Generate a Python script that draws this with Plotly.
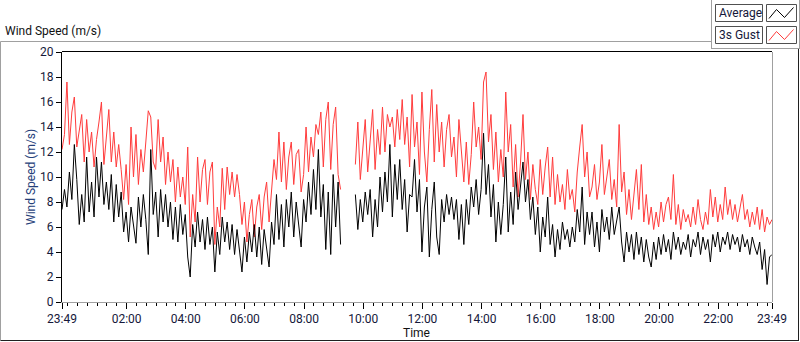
import pandas as pd
import plotly.graph_objects as go

# ---------------- data (5-minute samples) ----------------
START = "2013-06-01 23:49"
STEP_MIN = 5
GAP_LEN = 5  # missing samples around 09:20-09:45

avg_before = [
    7.4, 9.0, 7.6, 10.4, 8.2, 12.6, 9.8, 6.2, 8.6, 6.4,
    11.6, 7.2, 9.6, 6.8, 11.6, 8.4, 11.2, 7.8, 9.6, 7.4,
    10.2, 6.4, 9.4, 6.8, 8.8, 5.6, 7.2, 4.8, 7.6, 6.0,
    4.7, 8.4, 6.0, 8.6, 6.6, 3.8, 12.2, 7.0, 8.8, 5.2,
    9.0, 6.4, 8.6, 6.0, 8.0, 5.0, 7.6, 4.8, 7.8, 5.4,
    7.0, 3.6, 2.0, 6.2, 4.4, 7.2, 4.8, 6.6, 4.2, 6.8,
    4.6, 6.0, 2.4, 5.6, 3.8, 6.8, 4.8, 6.4, 4.2, 6.2,
    3.8, 5.8, 4.2,
    2.4, 5.2, 3.2, 5.6, 4.0, 6.2, 3.6,
    6.0, 3.0, 5.8, 4.4, 2.8, 6.4, 4.6, 8.6, 5.0, 7.8,
    4.4, 8.2, 6.0, 8.8, 5.2, 8.0, 6.2, 4.4, 8.2, 6.4,
    9.6, 7.0, 10.6, 7.4, 12.2, 6.8, 9.4, 4.2, 8.8, 3.8,
    10.2, 6.0, 9.6, 4.6,
]
avg_after = [
    8.6, 5.8, 8.2, 6.4, 8.8, 7.0, 9.0, 5.2, 8.2, 6.0,
    10.0, 7.2, 10.4, 8.0, 12.6, 6.8, 11.0, 8.2, 11.4, 7.4,
    9.8, 5.6, 8.6,
    8.4, 11.4, 7.2, 9.8, 4.0, 7.6, 9.2, 3.6, 7.4, 9.6,
    5.2, 3.8, 8.2, 6.4, 8.6, 7.0, 8.4, 6.6, 8.2, 5.0,
    7.8, 4.6, 8.2, 6.2, 9.2, 7.6, 9.8, 7.0, 9.0, 13.5,
    8.6, 11.0, 6.8, 9.4, 4.8, 8.0, 5.4, 7.8, 11.6, 5.6,
    8.8, 6.2, 10.4, 7.4, 9.6, 11.2, 8.0, 9.8, 6.6, 8.4,
    5.4, 7.6, 4.0, 6.8, 5.2, 8.4, 4.6, 6.2, 3.6, 5.8,
    4.2, 6.4, 5.0, 5.8, 4.4, 6.0, 4.8, 7.4, 5.6, 9.2,
    4.6, 7.2, 5.4,
    7.2, 4.4, 6.4, 4.0, 7.4, 5.6, 6.8, 5.0, 7.6, 5.4,
    6.6, 7.6, 4.8, 3.2, 5.6, 4.0, 5.4, 3.4, 5.6, 3.8,
    5.2, 3.2, 5.0, 3.6, 2.8, 4.8, 3.4, 5.2, 3.8, 5.4,
    4.0, 5.0, 3.4, 5.6, 4.2, 5.2, 3.8, 4.8, 4.2, 5.4,
    3.6, 5.0, 4.4, 5.6, 3.8, 5.2, 4.2, 5.0, 3.2, 5.4,
    4.4, 5.6, 4.0, 5.2, 4.6, 5.6, 4.2, 5.4, 4.6, 5.2,
    4.0, 5.4, 4.4, 5.0, 3.8, 5.2, 4.4, 3.8, 4.8, 2.6,
    4.2, 1.4, 3.6, 3.8,
]
gust_before = [
    12.2, 13.4, 17.6, 12.6, 15.2, 16.4, 12.4, 13.8, 15.0, 11.2,
    14.6, 12.0, 13.6, 10.8, 13.0, 14.4, 16.0, 11.0, 13.2, 15.4,
    11.2, 13.6, 10.8, 12.6, 10.6, 8.2, 11.0, 7.8, 14.0, 10.0,
    13.4, 9.4, 12.2, 10.4, 12.8, 15.3, 14.8, 11.2, 10.6, 14.6,
    11.2, 13.2, 9.4, 12.0, 9.6, 11.4, 8.0, 10.8, 8.4, 10.0,
    7.8, 12.4, 5.2, 8.6, 6.4, 11.6, 8.0, 10.6, 11.4, 7.8,
    10.4, 11.2, 4.6, 7.6, 6.0, 10.7, 7.4, 10.8, 8.6, 10.4,
    8.4, 10.2, 8.6,
    6.2, 8.0, 4.8, 7.0, 8.2, 5.2, 7.6,
    8.6, 5.8, 8.4, 9.6, 6.4, 9.2, 11.4, 9.8, 13.6, 9.6,
    12.8, 9.0, 11.6, 12.8, 9.4, 11.8, 12.2, 8.8, 10.2, 14.0,
    10.4, 13.2, 11.6, 14.2, 13.4, 15.2, 10.8, 14.6, 16.0, 10.6,
    14.2, 15.6, 10.2, 9.0,
]
gust_after = [
    11.0, 14.4, 9.8, 12.4, 14.6, 10.4, 13.0, 15.4, 10.6, 13.8,
    11.8, 15.6, 12.0, 15.0, 14.0, 14.8, 12.4, 15.4, 13.0, 16.2,
    12.6, 14.8, 10.8,
    16.6, 12.4, 14.4, 10.2, 16.8, 12.0, 9.6, 13.8, 17.0, 11.2,
    15.8, 12.0, 14.4, 10.8, 13.8, 15.0, 11.6, 13.2, 10.0, 14.6,
    12.0, 9.6, 12.8, 9.4, 11.8, 16.0, 12.4, 14.0, 11.4, 17.6,
    18.4, 12.8, 15.0, 10.6, 13.6, 9.6, 12.2, 10.0, 16.8, 12.0,
    14.2, 9.2, 12.6, 8.4, 11.2, 15.0, 9.8, 12.0, 8.2, 11.0,
    9.0, 7.8, 11.4, 8.6, 10.8, 12.4, 8.4, 11.6, 7.8, 10.2,
    8.0, 9.4, 7.4, 10.6, 8.2, 9.0, 7.2, 10.4, 12.4, 14.2,
    10.0, 12.0, 8.4,
    9.2, 11.0, 8.2, 9.6, 12.6, 8.6, 10.0, 11.4, 8.2, 9.8,
    7.6, 14.2, 8.8, 10.4, 7.0, 9.0, 6.6, 8.4, 10.6, 7.4,
    11.0, 6.4, 8.6, 6.2, 7.6, 5.8, 7.2, 6.0, 8.0, 6.4,
    7.8, 8.4, 6.6, 10.2, 6.2, 7.8, 5.8, 7.4, 6.4, 7.0,
    6.0, 7.6, 6.2, 8.2, 6.6, 5.8, 7.2, 6.2, 9.0, 6.8,
    8.4, 6.4, 7.8, 6.6, 9.2, 7.0, 8.2, 6.6, 7.8, 6.4,
    7.6, 8.6, 6.6, 7.4, 6.0, 7.2, 6.2, 7.6, 5.8, 7.4,
    5.6, 6.8, 6.2, 6.6,
]
tick_labels = ["23:49", "02:00", "04:00", "06:00", "08:00", "10:00", "12:00",
               "14:00", "16:00", "18:00", "20:00", "22:00", "23:49"]
y_ticks = list(range(0, 21, 2))

# ---------------- build series ----------------
avg = avg_before + [None] * GAP_LEN + avg_after
gust = gust_before + [None] * GAP_LEN + gust_after
assert len(avg) == len(gust) == 289, (len(avg), len(gust))
times = pd.date_range(START, periods=len(avg), freq=f"{STEP_MIN}min")
t0, t1 = times[0], times[-1]
day2 = t1.normalize()
tick_vals = [t0] + [day2 + pd.Timedelta(hours=int(s[:2]), minutes=int(s[3:]))
                    for s in tick_labels[1:-1]] + [t1]

# ---------------- geometry helpers (pixels -> paper) ----------------
W, H = 800, 342
L, R, T, B = 62, 28, 52, 40
PW, PH = W - L - R, H - T - B


def fx(x):
    return (x - L) / PW


def fy(y):
    return (H - B - y) / PH


FONT = "Roboto, 'DejaVu Sans', sans-serif"
TXT = "#15183a"

fig = go.Figure()
fig.add_trace(go.Scatter(x=times, y=gust, mode="lines", name="3s Gust",
                         line=dict(color="#ff3c3c", width=1),
                         connectgaps=False))
fig.add_trace(go.Scatter(x=times, y=avg, mode="lines", name="Average",
                         line=dict(color="#000000", width=1),
                         connectgaps=False))

shapes = []


def seg(x0, y0, x1, y1, color, w=1):
    shapes.append(dict(type="line", xref="paper", yref="paper",
                       x0=fx(x0), y0=fy(y0), x1=fx(x1), y1=fy(y1),
                       line=dict(color=color, width=w)))


def box(x0, y0, x1, y1, color):
    shapes.append(dict(type="rect", xref="paper", yref="paper",
                       x0=fx(x0), y0=fy(y0), x1=fx(x1), y1=fy(y1),
                       line=dict(color=color, width=1), fillcolor="white"))


def zig(x0, y0, color):
    pts = [(x0, y0 + 11), (x0 + 7.5, y0 + 2), (x0 + 15.5, y0 + 10), (x0 + 24.5, y0 + 0)]
    path = "M " + " L ".join(f"{fx(a)},{fy(b)}" for a, b in pts)
    shapes.append(dict(type="path", xref="paper", yref="paper", path=path,
                       line=dict(color=color, width=1)))


GRAY = "#a0a0a0"
# outer panel (raised look)
seg(0.5, 41.5, 712, 41.5, GRAY)
seg(0.5, 41.5, 0.5, 340.5, GRAY)
seg(0.5, 340.5, 799, 340.5, "#202020")
seg(798.5, 49, 798.5, 340.5, "#202020")
# legend panel
seg(711.5, 0, 711.5, 49, GRAY)
seg(711.5, 48.5, 799.5, 48.5, GRAY)
seg(799.5, 0, 799.5, 49, GRAY)
# plot frame top / right
seg(L, T - 0.5, L + PW, T - 0.5, "#000000")
seg(L + PW + 0.5, T, L + PW + 0.5, T + PH, GRAY)
# legend boxes
box(715.5, 4.5, 762.5, 21.5, "#505050")
box(766.5, 4.5, 796.5, 21.5, "#505050")
box(715.5, 26.5, 762.5, 43.5, "#505050")
box(766.5, 26.5, 796.5, 43.5, "#505050")
zig(769, 7.5, "#000000")
zig(769, 29.5, "#ff3c3c")

annotations = [
    dict(text="Wind Speed (m/s)", x=fx(3), y=fy(31), xanchor="left", yanchor="middle",
         font=dict(size=12, color="#111111")),
    dict(text="Wind Speed (m/s)", x=fx(31), y=fy(177), textangle=-90,
         xanchor="center", yanchor="middle", font=dict(size=12, color="#26407a")),
    dict(text="Time", x=fx(416), y=fy(333), xanchor="center", yanchor="middle",
         font=dict(size=12, color="#111111")),
    dict(text="Average", x=fx(717), y=fy(13), xanchor="left", yanchor="middle",
         font=dict(size=12, color=TXT)),
    dict(text="3s Gust", x=fx(717), y=fy(35), xanchor="left", yanchor="middle",
         font=dict(size=12, color=TXT)),
]
for a in annotations:
    a.update(xref="paper", yref="paper", showarrow=False)

fig.update_layout(
    width=W, height=H,
    margin=dict(l=L, r=R, t=T, b=B, pad=0),
    paper_bgcolor="white", plot_bgcolor="white",
    font=dict(family=FONT, size=12, color=TXT),
    showlegend=False,
    hovermode=False,
    shapes=shapes,
    annotations=annotations,
    xaxis=dict(
        type="date", range=[t0, t1], tickmode="array",
        tickvals=tick_vals, ticktext=tick_labels,
        showgrid=False, zeroline=False,
        showline=True, linecolor=GRAY, linewidth=1,
        ticks="outside", ticklen=6, tickwidth=1, tickcolor="#000000",
        tickfont=dict(size=12, color=TXT),
        minor=dict(tickmode="linear", tick0="2013-06-01 00:00", dtick=20 * 60 * 1000,
                   ticks="outside", ticklen=3, tickwidth=1, tickcolor="#000000",
                   showgrid=False),
    ),
    yaxis=dict(
        range=[0, 20], tickmode="array", tickvals=y_ticks,
        showgrid=False, zeroline=False,
        showline=True, linecolor="#000000", linewidth=1,
        ticks="outside", ticklen=5, tickwidth=1, tickcolor="#000000",
        tickfont=dict(size=12, color=TXT),
    ),
)

fig.write_html(
    "out.html",
    config={"displayModeBar": False, "staticPlot": True},
    post_script="document.body.style.margin='0';document.body.style.overflow='hidden';",
)
